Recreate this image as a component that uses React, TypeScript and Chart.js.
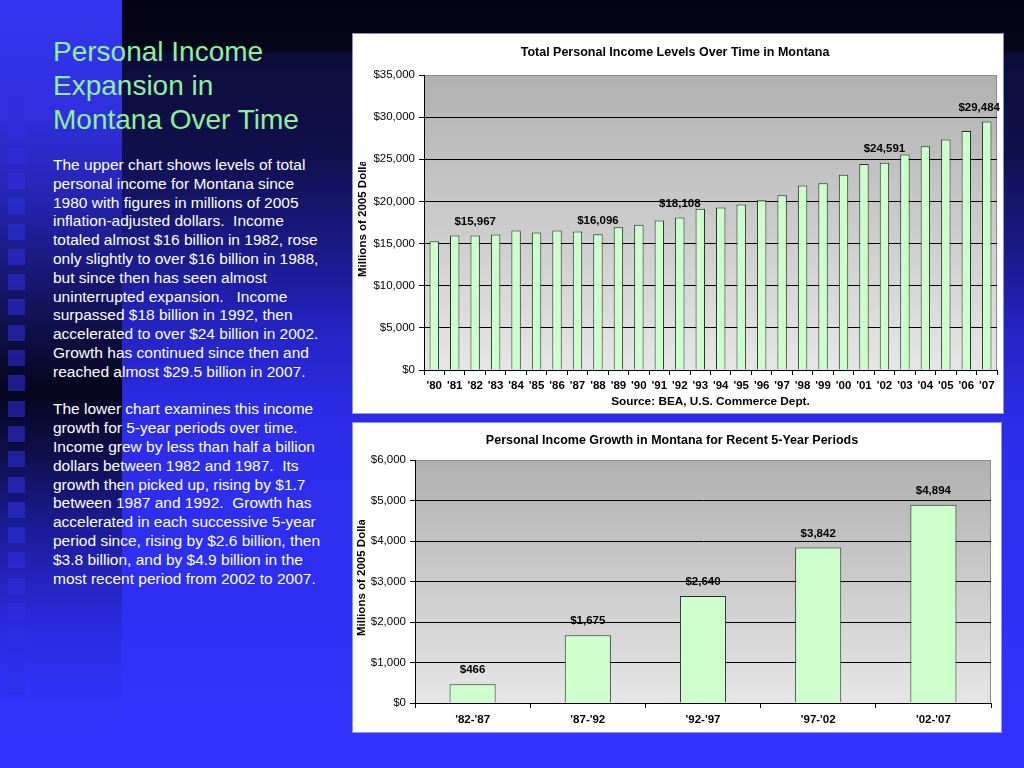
import React, { useEffect, useRef } from "react";
import { Chart, registerables } from "chart.js";

Chart.register(...registerables);

const FONT = '"Liberation Sans", Arial, sans-serif';

// ---- Data: upper chart ----
const years = ["'80", "'81", "'82", "'83", "'84", "'85", "'86", "'87", "'88", "'89", "'90", "'91", "'92", "'93", "'94", "'95", "'96", "'97", "'98", "'99", "'00", "'01", "'02", "'03", "'04", "'05", "'06", "'07"];
const totalIncome = [15280, 15950, 15967, 16070, 16550, 16310, 16550, 16430, 16096, 16940, 17220, 17740, 18108, 19120, 19280, 19640, 20150, 20740, 21890, 22170, 23160, 24430, 24591, 25570, 26560, 27360, 28350, 29484];
const labeledYears = ["'82", "'88", "'92", "'02", "'07"];
const upperMax = 35000;
const upperStep = 5000;

// ---- Data: lower chart ----
const periods = ["'82-'87", "'87-'92", "'92-'97", "'97-'02", "'02-'07"];
const growth = [466, 1675, 2640, 3842, 4894];
const lowerMax = 6000;
const lowerStep = 1000;

// ---- Text ----
const titleLines = ["Personal Income", "Expansion in", "Montana Over Time"];
const bodyLines = [
  "The upper chart shows levels of total",
  "personal income for Montana since",
  "1980 with figures in millions of 2005",
  "inflation-adjusted dollars.  Income",
  "totaled almost $16 billion in 1982, rose",
  "only slightly to over $16 billion in 1988,",
  "but since then has seen almost",
  "uninterrupted expansion.   Income",
  "surpassed $18 billion in 1992, then",
  "accelerated to over $24 billion in 2002.",
  "Growth has continued since then and",
  "reached almost $29.5 billion in 2007.",
  "",
  "The lower chart examines this income",
  "growth for 5-year periods over time.",
  "Income grew by less than half a billion",
  "dollars between 1982 and 1987.  Its",
  "growth then picked up, rising by $1.7",
  "between 1987 and 1992.  Growth has",
  "accelerated in each successive 5-year",
  "period since, rising by $2.6 billion, then",
  "$3.8 billion, and by $4.9 billion in the",
  "most recent period from 2002 to 2007.",
];

const fmt = (v: number) => "$" + String(Math.round(v)).replace(/\B(?=(\d{3})+(?!\d))/g, ",");

function makePlugins(yTitle: { text: string; x: number; y: number; clipTop: number }, showLabel: (i: number) => boolean) {
  const plotBg = {
    id: "plotBg",
    beforeDraw(chart: any) {
      const { ctx, chartArea: a } = chart;
      ctx.save();
      const g = ctx.createLinearGradient(0, a.top, 0, a.bottom);
      g.addColorStop(0, "#b0b0b0");
      g.addColorStop(1, "#e6e6e6");
      ctx.fillStyle = g;
      ctx.fillRect(a.left, a.top, a.right - a.left, a.bottom - a.top);
      ctx.strokeStyle = "#8a8a8a";
      ctx.lineWidth = 1;
      ctx.beginPath();
      ctx.moveTo(a.left, a.top + 0.5);
      ctx.lineTo(a.right - 0.5, a.top + 0.5);
      ctx.lineTo(a.right - 0.5, a.bottom);
      ctx.stroke();
      ctx.restore();
    },
  };
  const labels = {
    id: "valueLabels",
    afterDatasetsDraw(chart: any) {
      const { ctx, width } = chart;
      const meta = chart.getDatasetMeta(0);
      const data = chart.data.datasets[0].data as number[];
      ctx.save();
      ctx.font = `bold 11.5px ${FONT}`;
      ctx.fillStyle = "#000";
      ctx.textAlign = "center";
      ctx.textBaseline = "middle";
      meta.data.forEach((el: any, i: number) => {
        if (!showLabel(i)) return;
        const txt = fmt(data[i]);
        const w = ctx.measureText(txt).width;
        const x = Math.min(el.x, width - 3 - w / 2);
        ctx.fillText(txt, x, el.y - 14);
      });
      ctx.restore();
    },
  };
  const yTitlePlugin = {
    id: "yTitleClipped",
    afterDraw(chart: any) {
      const { ctx, height } = chart;
      ctx.save();
      ctx.beginPath();
      ctx.rect(0, yTitle.clipTop, 30, height - yTitle.clipTop);
      ctx.clip();
      ctx.translate(yTitle.x, yTitle.y);
      ctx.rotate(-Math.PI / 2);
      ctx.font = `bold 11.5px ${FONT}`;
      ctx.fillStyle = "#000";
      ctx.textAlign = "left";
      ctx.textBaseline = "middle";
      ctx.fillText(yTitle.text, 0, 0);
      ctx.restore();
    },
  };
  return [plotBg, labels, yTitlePlugin];
}

function UpperChart() {
  const ref = useRef<HTMLCanvasElement | null>(null);
  useEffect(() => {
    if (!ref.current) return;
    const chart = new Chart(ref.current, {
      type: "bar",
      data: {
        labels: years,
        datasets: [
          {
            data: totalIncome,
            backgroundColor: "#ccffcc",
            borderColor: "#263026",
            borderWidth: 1,
            barPercentage: 0.46,
            categoryPercentage: 1,
          },
        ],
      },
      options: {
        responsive: false,
        animation: false,
        layout: { padding: { left: 0, right: 6, top: 0, bottom: 0 } },
        plugins: {
          legend: { display: false },
          tooltip: { enabled: false },
          title: {
            display: true,
            text: "Total Personal Income Levels Over Time in Montana",
            color: "#000",
            font: { family: FONT, size: 12.5, weight: "bold" },
            padding: { top: 11.5, bottom: 14.5 },
          },
        },
        scales: {
          x: {
            grid: { display: true, drawOnChartArea: false, drawTicks: true, tickLength: 5, color: "#000", offset: true },
            border: { display: true, color: "#000", width: 1 },
            ticks: { color: "#000", font: { family: FONT, size: 11.5, weight: "bold" }, padding: 4, maxRotation: 0, autoSkip: false },
            title: {
              display: true,
              text: "Source: BEA, U.S. Commerce Dept.",
              color: "#000",
              font: { family: FONT, size: 11.8, weight: "bold" },
              padding: { top: 0, bottom: 4.5 },
            },
            afterFit: (s: any) => {
              s.height = 43;
            },
          },
          y: {
            min: 0,
            max: upperMax,
            ticks: { stepSize: upperStep, color: "#000", font: { family: FONT, size: 11.5 }, padding: 4, callback: (v: any) => fmt(Number(v)) },
            grid: {
              color: (c: any) => (c.tick && c.tick.value === upperMax ? "#8a8a8a" : "#000"),
              tickColor: "#000",
              tickLength: 5,
              drawTicks: true,
            },
            border: { display: true, color: "#000" },
            afterFit: (s: any) => {
              s.width = 71;
            },
          },
        },
      } as any,
      plugins: makePlugins({ text: "Millions of 2005 Dollars", x: 10, y: 243, clipTop: 128 }, (i) => labeledYears.includes(years[i])) as any,
    });
    return () => chart.destroy();
  }, []);
  return <canvas ref={ref} width={650} height={379} style={{ width: 650, height: 379, display: "block" }} />;
}

function LowerChart() {
  const ref = useRef<HTMLCanvasElement | null>(null);
  useEffect(() => {
    if (!ref.current) return;
    const chart = new Chart(ref.current, {
      type: "bar",
      data: {
        labels: periods,
        datasets: [
          {
            data: growth,
            backgroundColor: "#ccffcc",
            borderColor: "#263026",
            borderWidth: 1,
            barPercentage: 0.4,
            categoryPercentage: 1,
          },
        ],
      },
      options: {
        responsive: false,
        animation: false,
        layout: { padding: { left: 0, right: 10, top: 0, bottom: 0 } },
        plugins: {
          legend: { display: false },
          tooltip: { enabled: false },
          title: {
            display: true,
            text: "Personal Income Growth in Montana for Recent 5-Year Periods",
            color: "#000",
            font: { family: FONT, size: 12.5, weight: "bold" },
            padding: { top: 10.5, bottom: 11.5 },
          },
        },
        scales: {
          x: {
            grid: { display: true, drawOnChartArea: false, drawTicks: true, tickLength: 5, color: "#000", offset: true },
            border: { display: true, color: "#000", width: 1 },
            ticks: { color: "#000", font: { family: FONT, size: 11.5, weight: "bold" }, padding: 5, maxRotation: 0, autoSkip: false },
            afterFit: (s: any) => {
              s.height = 29;
            },
          },
          y: {
            min: 0,
            max: lowerMax,
            ticks: { stepSize: lowerStep, color: "#000", font: { family: FONT, size: 11.5 }, padding: 4, callback: (v: any) => fmt(Number(v)) },
            grid: {
              color: (c: any) => (c.tick && c.tick.value === lowerMax ? "#8a8a8a" : "#000"),
              tickColor: "#000",
              tickLength: 5,
              drawTicks: true,
            },
            border: { display: true, color: "#000" },
            afterFit: (s: any) => {
              s.width = 62;
            },
          },
        },
      } as any,
      plugins: makePlugins({ text: "Millions of 2005 Dollars", x: 9, y: 213, clipTop: 97 }, () => true) as any,
    });
    return () => chart.destroy();
  }, []);
  return <canvas ref={ref} width={648} height={309} style={{ width: 648, height: 309, display: "block" }} />;
}

export default function App() {
  const squares: number[] = [];
  for (let k = 0; k < 24; k++) squares.push(97 + k * 25.3);
  return (
    <div
      style={{
        position: "absolute",
        left: 0,
        top: 0,
        width: 1024,
        height: 768,
        overflow: "hidden",
        fontFamily: FONT,
        background:
          "linear-gradient(to bottom, #030310 0px, #06061c 52px, #0c0c3a 53px, #10104c 150px, #1a1a88 250px, #2424c4 330px, #2c2ce8 420px, #3333ff 768px)",
      }}
    >
      <div
        style={{
          position: "absolute",
          left: 0,
          top: 0,
          width: 122,
          height: 768,
          background:
            "linear-gradient(to bottom, #3535f0 0px, #3030e0 110px, #2424b0 200px, #141460 300px, #06061e 390px, #0e0e48 450px, #1c1c98 530px, #2a2adc 620px, #3232f8 700px, #3333ff 768px)",
        }}
      />
      {squares.map((y, i) => (
        <div
          key={i}
          style={{ position: "absolute", left: 8, top: Math.round(y), width: 17, height: 16, background: "rgba(48,48,225,0.55)" }}
        />
      ))}
      <div style={{ position: "absolute", left: 53, top: 35, color: "#8ff09c", fontSize: 28, lineHeight: "34px", whiteSpace: "pre" }}>
        {titleLines.map((t, i) => (
          <div key={i}>{t}</div>
        ))}
      </div>
      <div style={{ position: "absolute", left: 53, top: 156, color: "#ffffff", fontSize: 15.5, lineHeight: "18.8px", whiteSpace: "pre" }}>
        {bodyLines.map((t, i) => (
          <div key={i} style={{ height: 18.8 }}>{t}</div>
        ))}
      </div>
      <div style={{ position: "absolute", left: 353, top: 34, width: 650, height: 379, background: "#fff", boxShadow: "0 0 0 1px rgba(170,170,255,0.8)" }}>
        <UpperChart />
      </div>
      <div style={{ position: "absolute", left: 353, top: 423, width: 648, height: 309, background: "#fff", boxShadow: "0 0 0 1px rgba(170,170,255,0.8)" }}>
        <LowerChart />
      </div>
    </div>
  );
}
